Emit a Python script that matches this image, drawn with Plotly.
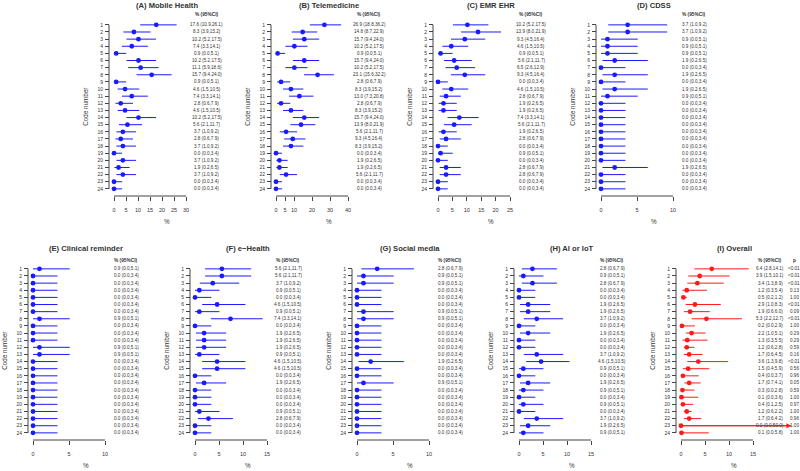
import plotly.graph_objects as go

# ---------------- data ----------------
codes = list(range(1, 25))
code_labels = [str(c) for c in codes]

A_title = "(A) Mobile Health"
A_est = [17.6, 8.3, 10.2, 7.4, 0.9, 10.2, 11.1, 15.7, 0.9, 4.6, 7.4, 2.8, 4.6, 10.2, 5.6, 3.7, 2.8, 3.7, 0.0, 3.7, 1.9, 3.7, 0.0, 0.0]
A_lo = [10.9, 3.9, 5.2, 3.3, 0.0, 5.2, 5.9, 9.4, 0.0, 1.5, 3.3, 0.6, 1.5, 5.2, 2.1, 1.0, 0.6, 1.0, 0.0, 1.0, 0.2, 1.0, 0.0, 0.0]
A_hi = [26.1, 15.2, 17.5, 14.1, 5.1, 17.5, 18.6, 24.0, 5.1, 10.5, 14.1, 7.9, 10.5, 17.5, 11.7, 9.2, 7.9, 9.2, 3.4, 9.2, 6.5, 9.2, 3.4, 3.4]
A_ticks = [0, 5, 10, 15, 20, 25, 30]

B_title = "(B) Telemedicine"
B_est = [26.9, 14.8, 15.7, 10.2, 0.9, 15.7, 10.2, 23.1, 2.8, 8.3, 13.0, 2.8, 8.3, 15.7, 13.9, 5.6, 9.3, 8.3, 0.0, 1.9, 1.9, 5.6, 0.0, 0.0]
B_lo = [18.8, 8.7, 9.4, 5.2, 0.0, 9.4, 5.2, 15.6, 0.6, 3.9, 7.3, 0.6, 3.9, 9.4, 8.0, 2.1, 4.5, 3.9, 0.0, 0.2, 0.2, 2.1, 0.0, 0.0]
B_hi = [36.2, 22.9, 24.0, 17.5, 5.1, 24.0, 17.5, 32.2, 7.9, 15.2, 20.8, 7.9, 15.2, 24.0, 21.9, 11.7, 16.4, 15.2, 3.4, 6.5, 6.5, 11.7, 3.4, 3.4]
B_ticks = [0, 5, 10, 20, 30, 40]

C_title = "(C) EMR EHR"
C_est = [10.2, 13.9, 9.3, 4.6, 0.9, 5.6, 6.5, 9.3, 0.0, 4.6, 2.8, 1.9, 1.9, 7.4, 5.6, 1.9, 2.8, 0.0, 0.9, 0.0, 2.8, 2.8, 0.0, 0.0]
C_lo = [5.2, 8.0, 4.5, 1.5, 0.0, 2.1, 2.6, 4.5, 0.0, 1.5, 0.6, 0.2, 0.2, 3.3, 2.1, 0.2, 0.6, 0.0, 0.0, 0.0, 0.6, 0.6, 0.0, 0.0]
C_hi = [17.5, 21.9, 16.4, 10.5, 5.1, 11.7, 12.9, 16.4, 3.4, 10.5, 7.9, 6.5, 6.5, 14.1, 11.7, 6.5, 7.9, 3.4, 5.1, 3.4, 7.9, 7.9, 3.4, 3.4]
C_ticks = [0, 5, 10, 15, 20, 25]

D_title = "(D) CDSS"
D_est = [3.7, 3.7, 0.9, 0.9, 0.9, 1.9, 0.0, 1.9, 0.0, 1.9, 0.9, 0.0, 0.0, 0.0, 0.0, 0.0, 0.0, 0.0, 0.0, 0.0, 1.9, 0.0, 0.0, 0.0]
D_lo = [1.0, 1.0, 0.0, 0.0, 0.0, 0.2, 0.0, 0.2, 0.0, 0.2, 0.0, 0.0, 0.0, 0.0, 0.0, 0.0, 0.0, 0.0, 0.0, 0.0, 0.2, 0.0, 0.0, 0.0]
D_hi = [9.2, 9.2, 5.1, 5.1, 5.1, 6.5, 3.4, 6.5, 3.4, 6.5, 5.1, 3.4, 3.4, 3.4, 3.4, 3.4, 3.4, 3.4, 3.4, 3.4, 6.5, 3.4, 3.4, 3.4]
D_ticks = [0, 5, 10]

E_title = "(E) Clinical reminder"
E_est = [0.9, 0.0, 0.0, 0.0, 0.0, 0.0, 0.0, 0.9, 0.0, 0.0, 0.0, 0.9, 0.9, 0.0, 0.0, 0.0, 0.0, 0.0, 0.0, 0.0, 0.0, 0.0, 0.0, 0.0]
E_lo = [0.0] * 24
E_hi = [5.1, 3.4, 3.4, 3.4, 3.4, 3.4, 3.4, 5.1, 3.4, 3.4, 3.4, 5.1, 5.1, 3.4, 3.4, 3.4, 3.4, 3.4, 3.4, 3.4, 3.4, 3.4, 3.4, 3.4]
E_ticks = [0, 5, 10]

F_title = "(F) e\u2212Health"
F_est = [5.6, 5.6, 3.7, 0.9, 0.0, 4.6, 0.9, 7.4, 0.0, 1.9, 1.9, 1.9, 0.9, 4.6, 4.6, 0.0, 1.9, 0.0, 0.0, 0.0, 0.9, 2.8, 0.0, 0.0]
F_lo = [2.1, 2.1, 1.0, 0.0, 0.0, 1.5, 0.0, 3.3, 0.0, 0.2, 0.2, 0.2, 0.0, 1.5, 1.5, 0.0, 0.2, 0.0, 0.0, 0.0, 0.0, 0.6, 0.0, 0.0]
F_hi = [11.7, 11.7, 9.2, 5.1, 3.4, 10.5, 5.1, 14.1, 3.4, 6.5, 6.5, 6.5, 5.1, 10.5, 10.5, 3.4, 6.5, 3.4, 3.4, 3.4, 5.1, 7.9, 3.4, 3.4]
F_ticks = [0, 5, 10, 15]

G_title = "(G) Social media"
G_est = [2.8, 0.9, 0.9, 0.0, 0.0, 0.0, 0.9, 0.9, 0.0, 0.0, 0.0, 0.0, 0.0, 1.9, 0.0, 0.0, 0.9, 0.0, 0.0, 0.0, 0.0, 0.0, 0.0, 0.0]
G_lo = [0.6, 0.0, 0.0, 0.0, 0.0, 0.0, 0.0, 0.0, 0.0, 0.0, 0.0, 0.0, 0.0, 0.2, 0.0, 0.0, 0.0, 0.0, 0.0, 0.0, 0.0, 0.0, 0.0, 0.0]
G_hi = [7.9, 5.1, 5.1, 3.4, 3.4, 3.4, 5.1, 5.1, 3.4, 3.4, 3.4, 3.4, 3.4, 6.5, 3.4, 3.4, 5.1, 3.4, 3.4, 3.4, 3.4, 3.4, 3.4, 3.4]
G_ticks = [0, 5, 10]

H_title = "(H) AI or IoT"
H_est = [2.8, 0.9, 2.8, 0.0, 0.0, 1.9, 1.9, 3.7, 0.0, 1.9, 0.0, 0.0, 3.7, 4.6, 0.9, 0.0, 1.9, 0.9, 0.0, 0.9, 0.0, 3.7, 1.9, 0.9]
H_lo = [0.6, 0.0, 0.6, 0.0, 0.0, 0.2, 0.2, 1.0, 0.0, 0.2, 0.0, 0.0, 1.0, 1.5, 0.0, 0.0, 0.2, 0.0, 0.0, 0.0, 0.0, 1.0, 0.2, 0.0]
H_hi = [7.9, 5.1, 7.9, 3.4, 3.4, 6.5, 6.5, 9.2, 3.4, 6.5, 3.4, 3.4, 9.2, 10.5, 5.1, 3.4, 6.5, 5.1, 3.4, 5.1, 3.4, 9.2, 6.5, 5.1]
H_ticks = [0, 5, 10, 15]

I_title = "(I) Overall"
I_est = [6.4, 3.9, 3.4, 1.2, 0.5, 2.9, 1.9, 5.3, 0.2, 2.2, 1.3, 1.2, 1.7, 3.6, 1.5, 0.4, 1.7, 0.3, 0.1, 0.4, 1.2, 1.7, 0.0, 0.1]
I_lo = [2.8, 1.5, 1.3, 0.3, 0.2, 1.0, 0.6, 2.2, 0.0, 1.0, 0.3, 0.6, 0.6, 1.3, 0.4, 0.0, 0.7, 0.0, 0.0, 0.1, 0.6, 0.6, 0.0, 0.0]
I_hi = [14.1, 10.1, 8.9, 5.4, 1.2, 8.3, 6.0, 12.7, 2.9, 5.1, 5.5, 2.8, 4.5, 9.8, 5.9, 3.7, 4.1, 2.8, 3.6, 2.5, 2.2, 4.2, 50.0, 5.8]
I_p = ["<0.01", "<0.01", "<0.01", "0.13", "1.00", "<0.01", "0.09", "<0.01", "1.00", "0.29", "0.29", "0.59",
       "0.16", "<0.01", "0.56", "0.96", "0.05", "0.59", "1.00", "0.97", "1.00", "0.96", "1.00", "1.00"]
I_ticks = [0, 5, 10, 15]

# ---------------- style / layout ----------------
W, H = 800, 471
FONT = "Liberation Sans, Arial, Helvetica, sans-serif"
TXT = "#333333"
AXC = "#444444"
BLUE = "#1a1aff"
RED = "#ff1a1a"
AXIS_LEN = 72.0           # px from 0 to last tick
ROW_S = 164.0 / 23.0      # px per row
I_CLIP = 23.0             # right clip of overall panel (data units)

panels = [
    dict(t=A_title, e=A_est, l=A_lo, h=A_hi, ticks=A_ticks, zero=114, axis=196, col=BLUE),
    dict(t=B_title, e=B_est, l=B_lo, h=B_hi, ticks=B_ticks, zero=276, axis=196, col=BLUE),
    dict(t=C_title, e=C_est, l=C_lo, h=C_hi, ticks=C_ticks, zero=438, axis=196, col=BLUE),
    dict(t=D_title, e=D_est, l=D_lo, h=D_hi, ticks=D_ticks, zero=601, axis=196, col=BLUE),
    dict(t=E_title, e=E_est, l=E_lo, h=E_hi, ticks=E_ticks, zero=33, axis=440, col=BLUE),
    dict(t=F_title, e=F_est, l=F_lo, h=F_hi, ticks=F_ticks, zero=195, axis=440, col=BLUE),
    dict(t=G_title, e=G_est, l=G_lo, h=G_hi, ticks=G_ticks, zero=357, axis=440, col=BLUE),
    dict(t=H_title, e=H_est, l=H_lo, h=H_hi, ticks=H_ticks, zero=519, axis=440, col=BLUE),
    dict(t=I_title, e=I_est, l=I_lo, h=I_hi, ticks=I_ticks, zero=681, axis=440, col=RED,
         p=I_p, clip=I_CLIP),
]

fig = go.Figure()
annotations = []
shapes = []
layout_axes = {}


def py(px):
    return 1 - px / H


def pxx(px):
    return px / W


for k, p in enumerate(panels, start=1):
    sid = "" if k == 1 else str(k)
    xr, yr = "x" + sid, "y" + sid
    ticks = p["ticks"]
    xmax = ticks[-1]
    scale = AXIS_LEN / xmax
    xright = p.get("clip", xmax)
    zero = p["zero"]
    axis_px = p["axis"]
    top_px = axis_px - 25 * ROW_S
    col = p["col"]

    layout_axes["xaxis" + sid] = dict(
        domain=[pxx(zero), pxx(zero + xright * scale)], range=[0, xright], anchor=yr,
        tickvals=ticks, ticktext=[str(t) for t in ticks], ticks="outside", ticklen=4,
        tickcolor=AXC, tickwidth=1, showline=False, showgrid=False, zeroline=False,
        tickfont=dict(size=5.5, color=TXT, family=FONT), ticklabelstandoff=4,
        automargin=False, fixedrange=True)
    layout_axes["yaxis" + sid] = dict(
        domain=[py(axis_px), py(top_px)], range=[25, 0], anchor="free",
        position=pxx(zero - 5), tickvals=codes, ticktext=code_labels, ticks="outside",
        ticklen=4, tickcolor=AXC, tickwidth=1, showline=False, showgrid=False,
        zeroline=False, tickfont=dict(size=5, color=TXT, family=FONT), ticklabelstandoff=1,
        automargin=False, fixedrange=True)

    # axis lines
    shapes.append(dict(type="line", xref=xr, yref="paper", x0=ticks[0], x1=xmax,
                       y0=py(axis_px), y1=py(axis_px), line=dict(color=AXC, width=1)))
    shapes.append(dict(type="line", xref="paper", yref=yr, x0=pxx(zero - 5), x1=pxx(zero - 5),
                       y0=codes[0], y1=codes[-1], line=dict(color=AXC, width=1)))

    # CI lines
    lx, ly = [], []
    for c, lo, hi in zip(codes, p["l"], p["h"]):
        lx += [lo, min(hi, xright), None]
        ly += [c, c, None]
    fig.add_trace(go.Scatter(x=lx, y=ly, xaxis=xr, yaxis=yr, mode="lines",
                             line=dict(color=col, width=1), hoverinfo="skip"))
    # arrows for CIs beyond the clip
    for c, lo, hi in zip(codes, p["l"], p["h"]):
        if hi > xright:
            annotations.append(dict(x=xright, y=c, xref=xr, yref=yr, ax=lo, ay=c,
                                    axref=xr, ayref=yr, showarrow=True, arrowhead=2,
                                    arrowsize=1, arrowwidth=1, arrowcolor=col, text=""))
    # point estimates
    fig.add_trace(go.Scatter(x=p["e"], y=codes, xaxis=xr, yaxis=yr, mode="markers",
                             marker=dict(color=col, size=4.8, symbol="circle"),
                             cliponaxis=False, hoverinfo="x+y"))

    # texts
    tf = dict(family=FONT, color=TXT)
    title_px = 6 if axis_px < 300 else 248
    head_px = 15 if axis_px < 300 else 260
    ctr = zero + AXIS_LEN / 2 + 17
    annotations.append(dict(text="<b>" + p["t"] + "</b>", x=pxx(ctr), y=py(title_px),
                            xref="paper", yref="paper", showarrow=False, xanchor="center",
                            yanchor="middle", font=dict(size=7.6, **tf)))
    annotations.append(dict(text="%", x=pxx(ctr), y=py(axis_px + 25), xref="paper",
                            yref="paper", showarrow=False, xanchor="center", yanchor="middle",
                            font=dict(size=6.3, **tf)))
    annotations.append(dict(text="Code number", x=pxx(zero - 28), y=(codes[0] + codes[-1]) / 2,
                            xref="paper", yref=yr, showarrow=False, textangle=-90,
                            xanchor="center", yanchor="middle", font=dict(size=6.3, **tf)))
    txt_ctr = zero + (89 if "p" in p else 93)
    annotations.append(dict(text="<b>% (95%CI)</b>", x=pxx(txt_ctr), y=py(head_px),
                            xref="paper", yref="paper", showarrow=False, xanchor="center",
                            yanchor="middle", font=dict(size=4.8, **tf)))
    for c, e, lo, hi in zip(codes, p["e"], p["l"], p["h"]):
        annotations.append(dict(text=f"{e:.1f} ({lo:.1f},{hi:.1f})", x=pxx(txt_ctr), y=c,
                                xref="paper", yref=yr, showarrow=False, xanchor="center",
                                yanchor="middle", font=dict(size=4.6, **tf)))
    if "p" in p:
        annotations.append(dict(text="<b>p</b>", x=pxx(zero + 113), y=py(head_px),
                                xref="paper", yref="paper", showarrow=False,
                                xanchor="center", yanchor="middle", font=dict(size=4.8, **tf)))
        for c, pv in zip(codes, p["p"]):
            annotations.append(dict(text=pv, x=pxx(zero + 113), y=c, xref="paper", yref=yr,
                                    showarrow=False, xanchor="center", yanchor="middle",
                                    font=dict(size=4.6, **tf)))

fig.update_layout(
    width=W, height=H, margin=dict(l=0, r=0, t=0, b=0, autoexpand=False), showlegend=False,
    paper_bgcolor="white", plot_bgcolor="rgba(0,0,0,0)",
    font=dict(family=FONT, color=TXT), annotations=annotations, shapes=shapes,
    **layout_axes)

fig.write_html("out.html", config={"displayModeBar": False},
               post_script="document.body.style.margin='0px';document.body.style.overflow='hidden';")
